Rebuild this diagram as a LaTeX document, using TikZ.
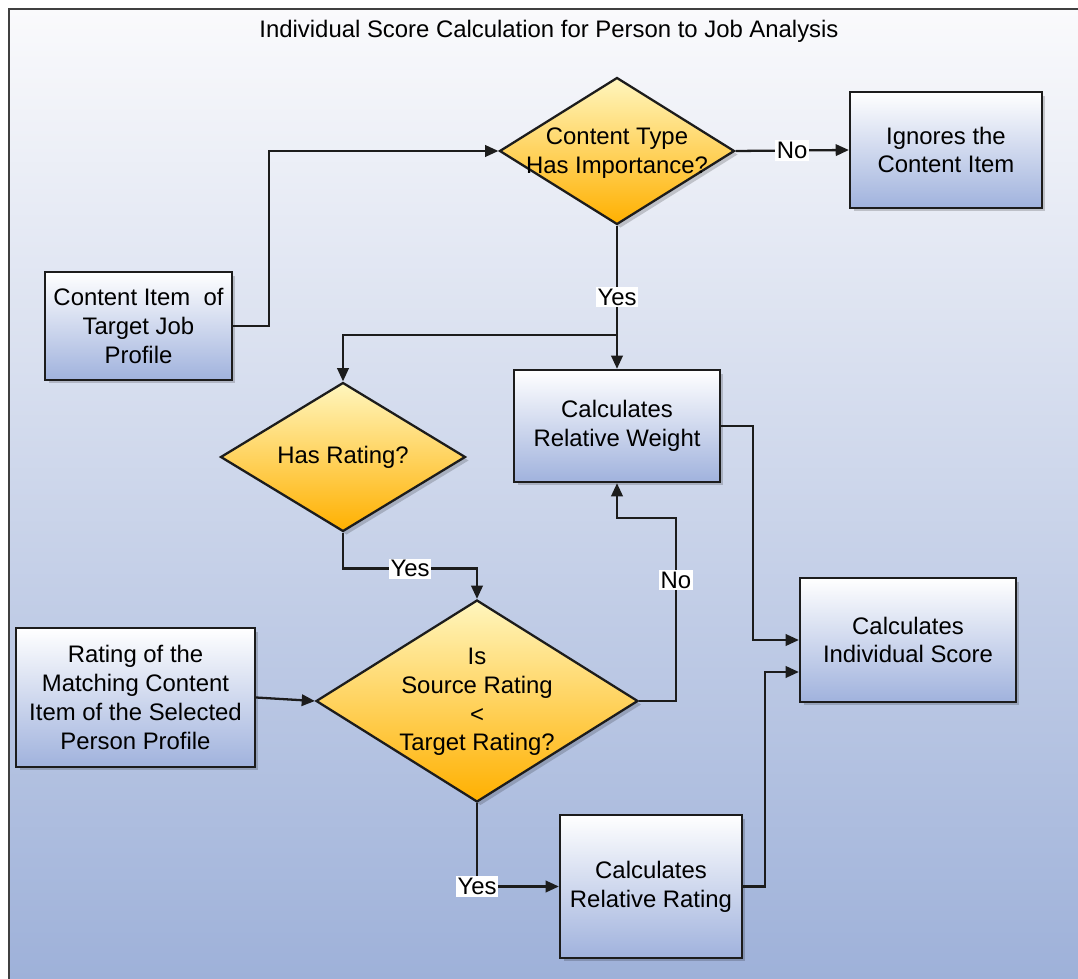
\documentclass[tikz,border=0pt]{standalone}
\usepackage{fontspec}
\setmainfont{Liberation Sans}
\usetikzlibrary{shapes.geometric,arrows.meta,shadows}

\definecolor{bgtop}{RGB}{250,250,252}
\definecolor{bgbot}{RGB}{158,177,217}
\definecolor{boxbot}{RGB}{160,178,221}
\definecolor{diatop}{RGB}{255,246,190}
\definecolor{diabot}{RGB}{255,176,0}
\definecolor{edge}{RGB}{28,28,28}

\tikzset{
  every node/.append style={font=\fontsize{13.6}{16.4}\selectfont},
  shadowed/.style={drop shadow={shadow xshift=0.07cm, shadow yshift=-0.07cm, fill=black, opacity=0.18}},
  box/.style={draw=edge, line width=1.3pt, top color=white, bottom color=boxbot, shadowed, align=center, inner sep=0pt},
  dia/.style={diamond, draw=edge, line width=1.3pt, top color=diatop, bottom color=diabot, shadowed, inner sep=0pt},
  txt/.style={align=center, inner sep=0pt},
  arr/.style={draw=edge, line width=1.3pt, -{Triangle[length=7.5pt,width=6.5pt]}},
  lbl/.style={fill=white, inner sep=1pt}
}

\begin{document}
\begin{tikzpicture}[x=0.02cm, y=-0.02cm]
    \useasboundingbox (0,0) rectangle (1078,979);
    % background and frame
    \shade[top color=bgtop, bottom color=bgbot] (9,9) rectangle (1078,979);
    \draw[line width=1.5pt, black!75] (9,979) -- (9,9) -- (1078,9);
    \node[txt] (title) at (549,31) {Individual Score Calculation for Person to Job Analysis};

    % boxes
    \node[box, minimum width=3.74cm, minimum height=2.16cm] (cit) at (138.5,326) {Content Item\ \ of\\Target Job\\Profile};
    \node[box, minimum width=3.84cm, minimum height=2.32cm] (ign) at (946,150) {Ignores the\\Content Item};
    \node[box, minimum width=4.12cm, minimum height=2.24cm] (crw) at (617,426) {Calculates\\Relative Weight};
    \node[box, minimum width=4.32cm, minimum height=2.48cm] (isc) at (908,640) {Calculates\\Individual Score};
    \node[box, minimum width=4.78cm, minimum height=2.78cm] (rat) at (135.5,697.5) {Rating of the\\Matching Content\\Item of the Selected\\Person Profile};
    \node[box, minimum width=3.64cm, minimum height=2.86cm] (crr) at (651,886.5) {Calculates\\Relative Rating};

    % decisions
    \node[dia, minimum width=4.7cm, minimum height=2.94cm] (imp) at (617,151) {};
    \node[txt] (impt) at (617,153) {Content Type\\Has Importance?};
    \node[dia, minimum width=4.9cm, minimum height=2.98cm] (hasr) at (343,457) {};
    \node[txt] (hasrt) at (hasr) {Has Rating?};
    \node[dia, minimum width=6.44cm, minimum height=4.04cm] (cmp) at (477,701) {};
    \node[txt] (cmpt) at (477,702) {Is\\Source Rating\\<\\Target Rating?};

    % connectors
    \coordinate (split) at (617,335);
    \coordinate (nobend) at (676,518);
    \draw[arr] (cit.east) -- ++(36,0) |- (imp.west);
    \draw[arr] (imp.east) -- node[lbl]{No} (ign.west);
    \draw[arr] (imp.south) -- node[lbl]{Yes} (crw.north);
    \draw[arr] (split) -| (hasr.north);
    \draw[arr] (hasr.south) -- ++(0,36) -| node[lbl, pos=0.25]{Yes} (cmp.north);
    \draw[arr] (rat.east) -- (cmp.west);
    \draw[arr] (cmp.east) -| node[lbl, pos=0.83]{No} (nobend) -| (crw.south);
    \draw[arr] (crw.east) -- ++(32,0) |- (isc.west);
    \draw[arr] (cmp.south) |- node[lbl, pos=0.5]{Yes} (crr.west);
    \draw[arr] (crr.east) -- ++(22,0) |- ([yshift=-0.64cm]isc.west);
\end{tikzpicture}
\end{document}
